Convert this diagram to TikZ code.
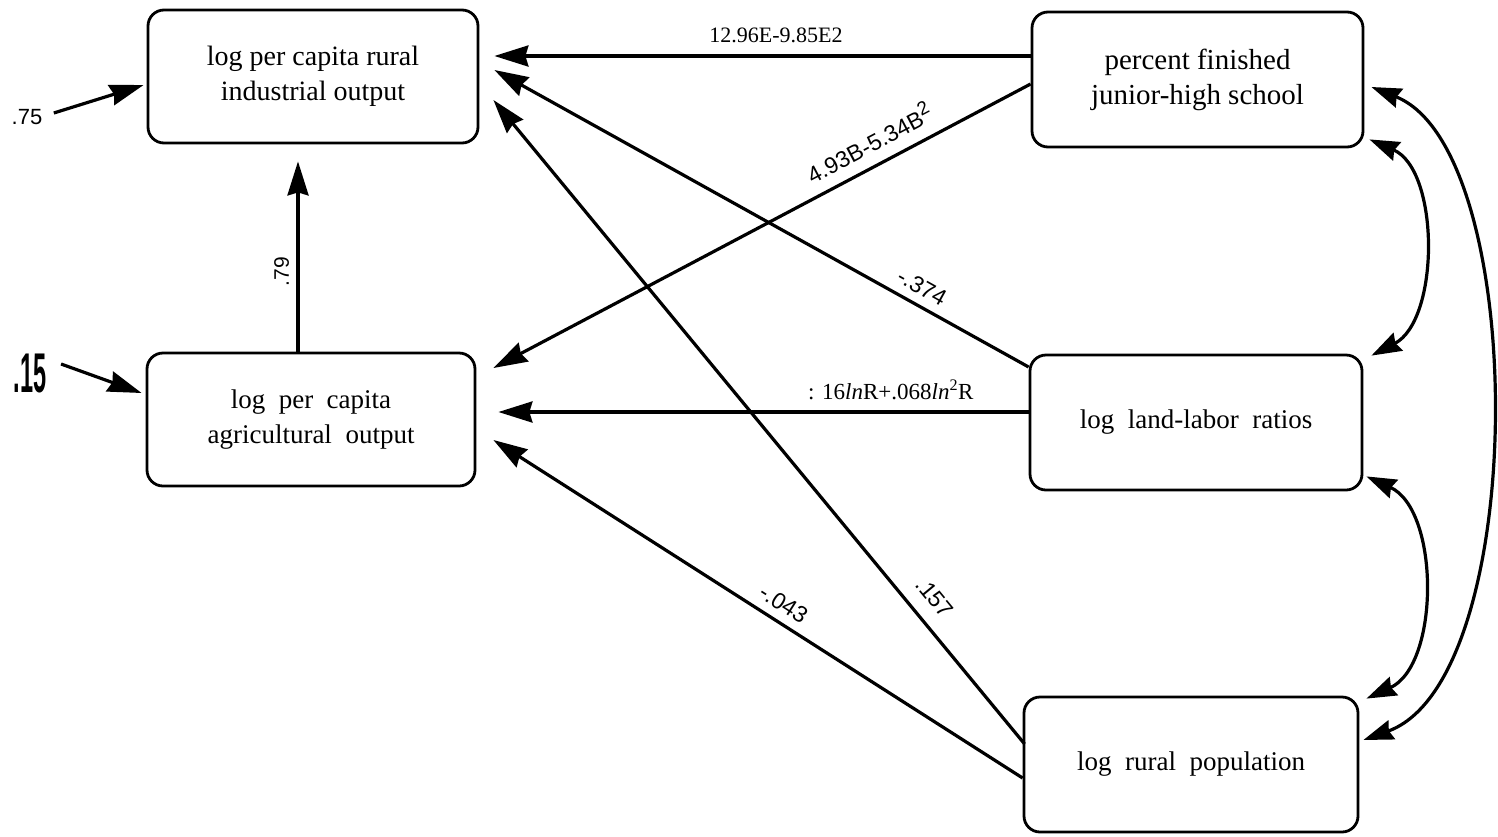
\documentclass[tikz,border=0pt]{standalone}
\usepackage{fontspec}
\setmainfont{Liberation Serif}
\setsansfont{Liberation Sans}
\usetikzlibrary{arrows.meta,calc}
\begin{document}
\begin{tikzpicture}[x=1pt,y=-1pt,
  box/.style={draw,line width=2.8pt,rounded corners=16pt,align=center,inner sep=0pt,
    font=\fontsize{28}{35}\selectfont},
  widebox/.style={box,font={\fontsize{27}{35}\selectfont\spaceskip=0.5em\relax}},
  conn/.style={line width=3.2pt,-{Stealth[length=34pt,width=21pt,inset=3pt]}},
  both/.style={line width=3.2pt,{Stealth[length=30pt,width=20pt,inset=3pt]}-{Stealth[length=30pt,width=20pt,inset=3pt]}},
  elab/.style={font=\fontsize{22}{22}\selectfont},
  slab/.style={font=\sffamily\fontsize{23}{23}\selectfont,sloped,above=5pt}
]
\useasboundingbox (0,0) rectangle (1498,836);

% boxes
\node[box,minimum width=330pt,minimum height=133pt] (A) at (313,76.5) {log per capita rural\\industrial output};
\node[widebox,minimum width=328pt,minimum height=133pt] (B) at (311,419.5) {log per capita\\agricultural output};
\node[box,font=\fontsize{29}{35}\selectfont,minimum width=331pt,minimum height=135pt] (C) at (1197.5,79.5) {percent finished\\junior-high school};
\node[widebox,minimum width=332pt,minimum height=135pt] (D) at (1196,422.5) {log land-labor ratios};
\node[widebox,minimum width=334pt,minimum height=135pt] (E) at (1191,764.5) {log rural population};

% error terms
\node[font=\sffamily\fontsize{22}{22}\selectfont] (n75) at (27,117) {.75};
\node[inner sep=0pt] (n15) at (30,374) {\scalebox{0.42}[1]{\sffamily\bfseries\fontsize{56}{56}\selectfont .15}};
\draw[conn] ($(n75.east)+(8,-4)$) -- ($(A.west)+(-3,8.5)$);
\draw[conn] ($(n15.east)+(14.5,-10)$) -- ($(B.west)+(-4,-26.5)$);

% paths
\draw[conn] ($(C.west)+(0,-23.5)$) -- node[pos=0.475,above=8pt,elab] (l1) {12.96E-9.85E2} ($(A.east)+(15,-20.5)$);
\draw[conn] ($(C.west)+(0,4.5)$) -- node[pos=0.28,slab,above=3pt] (l2) {4.93B-5.34B\textsuperscript{\fontsize{19}{19}\selectfont 2}} ($(B.east)+(17,-51.5)$);
\draw[conn] ($(D.west)+(0,-55.5)$) -- node[pos=0.216,slab] (l3) {-.374} ($(A.east)+(15,-6.5)$);
\draw[conn] ($(D.west)+(0,-10.5)$) -- node[pos=0.26,above=7pt,font=\fontsize{23}{23}\selectfont] (l4) {: 16\textit{ln}R+.068\textit{ln}\textsuperscript{2}R} ($(B.east)+(22,-7.5)$);
\draw[conn] ($(E.west)+(2,-20.5)$) -- node[pos=0.204,slab,above=6pt] (l5) {.157} ($(A.east)+(14,23.5)$);
\draw[conn] ($(E.west)+(0,13.5)$) -- node[pos=0.47,slab] (l6) {-.043} ($(B.east)+(17,20.5)$);
\draw[conn] ($(B.north)+(-13,0)$) -- node[pos=0.42,sloped,above=4pt,font=\sffamily\fontsize{21}{21}\selectfont] (l7) {.79} ($(A.south)+(-15,17)$);

% correlations
\draw[both] ($(C.south east)+(5,-9)$) .. controls (1440,170) and (1440,320) .. ($(D.north east)+(8,2)$);
\draw[both] ($(D.south east)+(3,-15)$) .. controls (1440,510) and (1440,665) .. ($(E.north east)+(7,3)$);
\draw[both] ($(C.east)+(7,7.5)$) .. controls (1530,150) and (1530,680) .. ($(E.east)+(4,-24.5)$);
\end{tikzpicture}
\end{document}
